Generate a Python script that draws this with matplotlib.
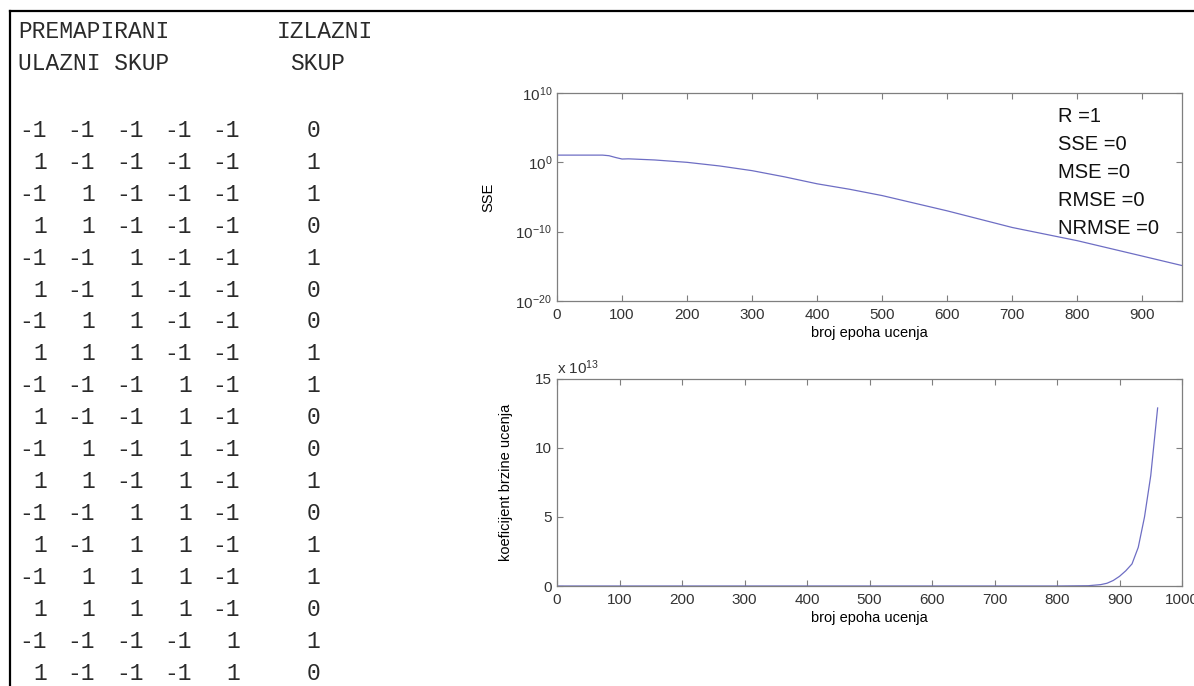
import matplotlib
matplotlib.use('Agg')
import matplotlib.pyplot as plt
from matplotlib.lines import Line2D
from matplotlib.ticker import FuncFormatter, FixedLocator, NullLocator

plt.rcParams.update({
    'font.family': 'Liberation Sans',
    'mathtext.fontset': 'custom',
    'mathtext.rm': 'Liberation Sans',
    'mathtext.it': 'Liberation Sans:italic',
    'mathtext.bf': 'Liberation Sans:bold',
    'axes.edgecolor': '#7f7f7f',
    'text.color': '#222222',
    'xtick.color': '#7f7f7f',
    'ytick.color': '#7f7f7f',
    'xtick.labelcolor': '#333333',
    'ytick.labelcolor': '#333333',
})

W, H = 1194, 686

# tablica: premapirani ulazni skup -> izlazni skup
HEADER_1 = ['PREMAPIRANI', 'IZLAZNI']
HEADER_2 = ['ULAZNI SKUP', 'SKUP']
ulazi = [
    [-1, -1, -1, -1, -1],
    [1, -1, -1, -1, -1],
    [-1, 1, -1, -1, -1],
    [1, 1, -1, -1, -1],
    [-1, -1, 1, -1, -1],
    [1, -1, 1, -1, -1],
    [-1, 1, 1, -1, -1],
    [1, 1, 1, -1, -1],
    [-1, -1, -1, 1, -1],
    [1, -1, -1, 1, -1],
    [-1, 1, -1, 1, -1],
    [1, 1, -1, 1, -1],
    [-1, -1, 1, 1, -1],
    [1, -1, 1, 1, -1],
    [-1, 1, 1, 1, -1],
    [1, 1, 1, 1, -1],
    [-1, -1, -1, -1, 1],
    [1, -1, -1, -1, 1],
]
izlazi = [0, 1, 1, 0, 1, 0, 0, 1, 1, 0, 0, 1, 0, 1, 1, 0, 1, 0]

# SSE kroz epohe (ocitano s grafa)
epohe_sse = [0, 70, 80, 90, 100, 110, 150, 200, 250, 300, 350, 400, 450,
             500, 600, 700, 800, 900, 961]
sse = [11, 11, 9, 5, 3, 3.2, 2.2, 1.0, 3e-1, 6.3e-2, 8e-3, 8e-4, 1.3e-4,
       1.6e-5, 1e-7, 4e-10, 5e-12, 3e-14, 1.3e-15]

# koeficijent brzine ucenja
epohe_lr = [0, 800, 850, 870, 880, 890, 900, 910, 920, 930, 940, 950, 961]
koef = [0.0, 0.0, 0.02e13, 0.1e13, 0.2e13, 0.4e13, 0.7e13, 1.1e13, 1.6e13,
        2.8e13, 5.0e13, 8.0e13, 12.9e13]

stat_text = 'R =1\nSSE =0\nMSE =0\nRMSE =0\nNRMSE =0'

LINE_COLOR = '#6e6ec4'


def px(x, y):
    return x / W, 1 - y / H


fig = plt.figure(figsize=(W / 100, H / 100), dpi=100)

# okvir tablice
fig.add_artist(Line2D([10 / W, 1], [1 - 11 / H] * 2, transform=fig.transFigure,
                      color='black', lw=1.6))
fig.add_artist(Line2D([10 / W] * 2, [0, 1 - 11 / H], transform=fig.transFigure,
                      color='black', lw=1.6))

mono = dict(family='Liberation Mono', fontsize=16.5, color='#2a2a2a')
cap = 6.8
fig.text(*px(18, 31.7 + cap), HEADER_1[0], ha='left', va='baseline', **mono)
fig.text(*px(277, 31.7 + cap), HEADER_1[1], ha='left', va='baseline', **mono)
fig.text(*px(18, 63.3 + cap), HEADER_2[0], ha='left', va='baseline', **mono)
fig.text(*px(290, 63.3 + cap), HEADER_2[1], ha='left', va='baseline', **mono)

col_right = [47, 95, 143.5, 192, 240]
for i, (red, izl) in enumerate(zip(ulazi, izlazi)):
    y = 130 + i * 31.95 + cap
    for xr, v in zip(col_right, red):
        fig.text(*px(xr, y), str(v), ha='right', va='baseline', **mono)
    fig.text(*px(313, y), str(izl), ha='center', va='baseline', **mono)

# gornji graf: SSE
ax1 = fig.add_axes([557 / W, 1 - 301 / H, 625 / W, 208 / H])
ax1.semilogy(epohe_sse, sse, color=LINE_COLOR, lw=0.9)
ax1.set_xlim(0, 961)
ax1.set_ylim(1e-20, 1e10)
ax1.xaxis.set_major_locator(FixedLocator(range(0, 1000, 100)))
ax1.yaxis.set_major_locator(FixedLocator([1e-20, 1e-10, 1e0, 1e10]))
ax1.yaxis.set_minor_locator(NullLocator())
ax1.set_xlabel('broj epoha ucenja', fontsize=10.5)
ax1.set_ylabel('SSE', fontsize=10.5)
ax1.xaxis.set_label_coords(0.5, -0.12)
ax1.yaxis.set_label_coords(-0.099, 0.5)
fig.text(*px(1058, 107), stat_text, fontsize=14.5, va='top', ha='left',
         linespacing=1.6, color='#111111')

# donji graf: koeficijent brzine ucenja
ax2 = fig.add_axes([557 / W, 1 - 586 / H, 625 / W, 207 / H])
ax2.plot(epohe_lr, koef, color=LINE_COLOR, lw=0.9)
ax2.set_xlim(0, 1000)
ax2.set_ylim(0, 15e13)
ax2.xaxis.set_major_locator(FixedLocator(range(0, 1001, 100)))
ax2.yaxis.set_major_locator(FixedLocator([0, 5e13, 10e13, 15e13]))
ax2.yaxis.set_major_formatter(FuncFormatter(lambda v, p: f'{v / 1e13:g}'))
ax2.text(0, 1.01, r'x $10^{13}$', transform=ax2.transAxes, fontsize=11,
         ha='left', va='bottom', color='#333333')
ax2.set_xlabel('broj epoha ucenja', fontsize=10.5)
ax2.set_ylabel('koeficijent brzine ucenja', fontsize=10.5)
ax2.xaxis.set_label_coords(0.5, -0.12)
ax2.yaxis.set_label_coords(-0.07, 0.5)

for ax in (ax1, ax2):
    ax.tick_params(direction='in', top=True, right=True, length=4.5,
                   width=0.8, labelsize=11)
    ax.tick_params(axis='x', pad=5)
    ax.tick_params(axis='y', pad=3.5)
    for s in ax.spines.values():
        s.set_linewidth(0.9)

fig.savefig('out.png', dpi=100)
